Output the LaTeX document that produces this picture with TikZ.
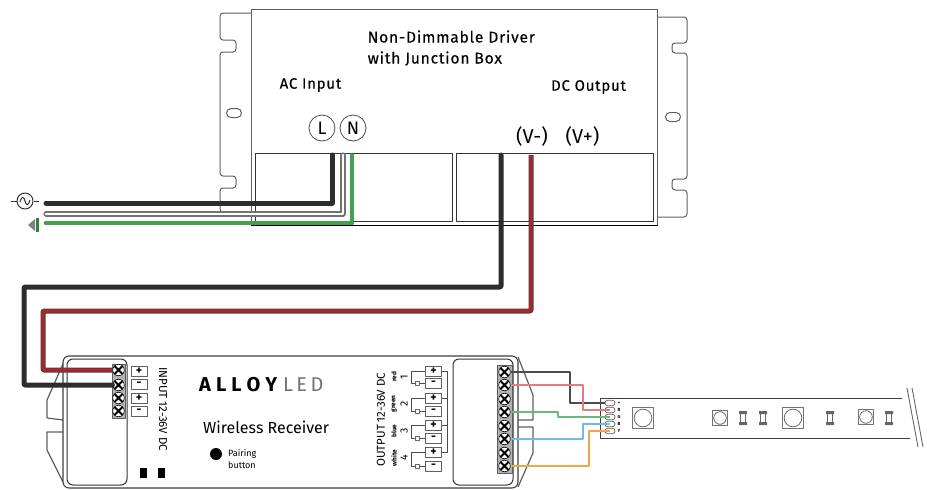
\documentclass[tikz,border=0pt]{standalone}
\usepackage{fontspec}
\setmainfont{Fira Sans}
\newfontfamily\dinfont[LetterSpace=5,FakeBold=0.25]{Fira Sans}
\usetikzlibrary{shapes.misc}
\definecolor{linegray}{RGB}{95,95,95}
\definecolor{wireblack}{RGB}{45,45,45}
\definecolor{wirered}{RGB}{176,36,44}
\definecolor{wiregreen}{RGB}{70,160,80}
\definecolor{thinred}{RGB}{224,125,130}
\definecolor{thingreen}{RGB}{105,185,125}
\definecolor{thinblue}{RGB}{105,190,235}
\definecolor{thinorange}{RGB}{245,165,70}
\begin{document}
\begin{tikzpicture}[x=1pt, y=-1pt, line join=round, font=\fontsize{14}{16}\selectfont,
outline/.style ={draw = linegray, line width = 1pt},
termbox/.style ={draw = black!80, line width = 0.9pt, minimum width = 197pt, minimum height = 68pt, inner sep = 0pt},
phase/.style ={circle, draw = black!70, line width = 0.8pt, minimum size = 26pt, inner sep = 0pt, font = \fontsize{18}{18}\selectfont},
heading/.style ={inner sep = 0pt, font = \dinfont\fontsize{15}{21}\selectfont},
screw/.style ={circle, draw = black, fill = white, line width = 0.6pt, minimum size = 11.5pt, inner sep = 0pt,
  path picture = {\draw[line width = 1.8pt] (path picture bounding box.north west) -- (path picture bounding box.south east)
  (path picture bounding box.north east) -- (path picture bounding box.south west);}},
block/.style ={draw = linegray, fill = black!30, line width = 0.5pt, inner sep = 0pt},
polbox/.style ={draw = linegray, line width = 0.8pt, minimum width = 16pt, minimum height = 10pt, inner sep = 0pt, font = \bfseries\fontsize{12}{12}\selectfont},
pad/.style ={rounded rectangle, draw = linegray, fill = white, line width = 0.7pt, minimum width = 10pt, minimum height = 5.5pt, inner sep = 0pt},
led/.style ={rectangle, draw = black!55, fill = white, line width = 1pt, inner sep = 0pt,
  path picture = {\draw[black!60, line width = 0.8pt] (path picture bounding box.center) circle (0.42*\pgfkeysvalueof{/pgf/minimum width});}},
res/.style ={rectangle, fill = white, minimum width = 8pt, minimum height = 14pt, inner sep = 0pt,
  path picture = {\fill[black!60] (path picture bounding box.north west) rectangle ([yshift = -3pt]path picture bounding box.north east)
  (path picture bounding box.south west) rectangle ([yshift = 3pt]path picture bounding box.south east);
  \draw[black!60, line width = 1pt] ([xshift = -2.2pt]path picture bounding box.north) -- ([xshift = -2.2pt]path picture bounding box.south)
  ([xshift = 2.2pt]path picture bounding box.north) -- ([xshift = 2.2pt]path picture bounding box.south);}},
blackwire/.style ={draw = wireblack, line width = 5pt, line cap = round},
redwire/.style ={draw = black!75, line width = 0.9pt, double = wirered, double distance = 3.2pt},
whitewire/.style ={draw = black!55, double = white, line width = 1.2pt, double distance = 2.8pt, line cap = round},
greenwire/.style ={draw = black!60, double = wiregreen, line width = 0.7pt, double distance = 3.2pt, line cap = round},
thinwire/.style ={line width = 1.4pt}]
\useasboundingbox (0,0) rectangle (927,490);

% driver
\draw[outline, rounded corners = 3pt] (251,13) -- (220,13) -- (220,40) -- (236,40) -- (236,52) -- (220,52) -- (220,176) -- (236,176)
  -- (236,188) -- (220,188) -- (220,212) -- (251,212);
\draw[outline, rounded corners = 3pt] (657,17) -- (687,17) -- (687,43) -- (672,43) -- (672,53) -- (687,53) -- (687,179) -- (672,179)
  -- (672,190) -- (687,190) -- (687,217) -- (657,217);
\node[draw = linegray, rounded rectangle, line width = 1pt, minimum width = 15pt, minimum height = 9pt, inner sep = 0pt] (slotA) at (234,113) {};
\node[draw = linegray, rounded rectangle, line width = 1pt, minimum width = 15pt, minimum height = 9pt, inner sep = 0pt] (slotB) at (673,117) {};
\node[outline, minimum width = 406pt, minimum height = 216pt, inner sep = 0pt] (driver) at (454,117) {};
\draw[black, line width = 1pt] (driver.south west) -- (driver.south east);
\node[termbox] (acbox) at (353.5,187) {};
\node[termbox] (dcbox) at (554.5,187) {};

\node[heading, anchor = west, align = left, font = \dinfont\fontsize{15.6}{21}\selectfont] (title) at (367.5,48) {Non-Dimmable Driver\\with Junction Box};
\node[heading] (acin) at (310.5,85) {AC Input};
\node[heading] (dcout) at (588.5,87) {DC Output};
\node[phase] (L) at (322,128) {L};
\node[phase] (N) at (353,128) {N};
\node[font = \fontsize{20}{20}\selectfont] (Vm) at (532,136) {(V-)};
\node[font = \fontsize{20}{20}\selectfont] (Vp) at (582.5,136) {(V+)};

% mains side
\node[circle, draw = black!80, line width = 1pt, minimum size = 16pt, inner sep = 0pt] (ac) at (25,201) {};
\draw[line width = 1pt, black!80] (11,201) -- (ac.west) (ac.east) -- (39,201);
\draw[line width = 1pt, black!80] (20,202) .. controls (22,195) and (24,197) .. (25,201) .. controls (26,205) and (28,207) .. (30,200);
\fill[black!50] (28,225) -- (35,219) -- (35,231) -- cycle;
\fill[wiregreen!80!black] (36,218) rectangle (39,232);

\coordinate (lineIn) at (46,203);
\coordinate (neutIn) at (46,214);
\coordinate (earthIn) at (46,223);
\coordinate (lineT) at (332,155);
\coordinate (neutT) at (343,155);
\coordinate (earthT) at (352,155);
\draw[whitewire] (neutIn) -| (neutT);
\draw[blackwire] (lineIn) -| (lineT);
\draw[greenwire] (earthIn) -| (earthT);

% receiver
\draw[outline, line width = 1.2pt] (63,364) -- (47,400) -- (47,418) -- (63,420) (63,432) -- (47,432) -- (47,450) -- (63,482);
\draw[outline, line width = 1.2pt] (518,357) -- (533,395) -- (533,420) -- (518,420) (518,427) -- (533,427) -- (533,453) -- (518,487);
\node[draw = black!75, fill = white, rounded corners = 6pt, line width = 1.1pt, minimum width = 455pt, minimum height = 132pt, inner sep = 0pt] (receiver) at (290.5,422) {};
\node[draw = black!80, rounded corners = 6pt, line width = 1pt, minimum width = 60pt, minimum height = 126pt, inner sep = 0pt] (pocketL) at (97,422) {};
\node[draw = black!80, rounded corners = 6pt, line width = 1pt, minimum width = 60pt, minimum height = 126pt, inner sep = 0pt] (pocketR) at (483,422) {};

\node[block, minimum width = 13pt, minimum height = 54pt] (blockL) at (118.5,391) {};
\node[block, minimum width = 15pt, minimum height = 108pt] (blockR) at (504.5,419) {};
\foreach \name/\ypos in {1/370, 2/385, 3/398, 4/411}
  \node[screw] (ls\name) at (118.5,\ypos) {};
\foreach \name/\ypos in {1/372, 2/385, 3/399, 4/412, 5/426, 6/439, 7/453, 8/466}
  \node[screw] (os\name) at (504.5,\ypos) {};

\node[polbox] (ip1) at (139,371) {+};
\node[polbox] (ip2) at (139,384) {-};
\node[polbox] (ip3) at (139,398) {+};
\node[polbox] (ip4) at (139,411) {-};
\node[rotate = -90, anchor = west, inner sep = 0pt, font = \fontsize{11.5}{13}\selectfont] (intext) at (163,367) {INPUT 12-36V DC};
\node[fill = black, minimum width = 7pt, minimum height = 10pt, inner sep = 0pt] (padA) at (143,473) {};
\node[fill = black, minimum width = 7pt, minimum height = 10pt, inner sep = 0pt] (padB) at (161,473) {};

\node[anchor = west, inner sep = 0pt, font = \bfseries\fontsize{20}{20}\selectfont] (alloy) at (199,385) {A\hspace{5pt}L\hspace{5pt}L\hspace{5pt}O\hspace{5pt}Y};
\node[anchor = west, inner sep = 0pt, text = black!55, font = \fontsize{20}{20}\selectfont] (ledtext) at (283,385) {L\,E\,D};
\node[anchor = west, inner sep = 0pt, font = \fontsize{16}{16}\selectfont] (wireless) at (203,427) {Wireless Receiver};
\node[circle, fill = black, minimum size = 12pt, inner sep = 0pt] (pair) at (216,454) {};
\node[anchor = west, inner sep = 0pt, align = left, font = \fontsize{9}{12}\selectfont] (pairtext) at (228,459) {Pairing\\button};

% output channels
\draw[line width = 0.8pt, black!70] (442,371) -- (447,371) -- (447,452) -- (442,452) (442,398) -- (447,398) (442,425) -- (447,425);
\foreach \num/\pos/\nega/\col in {1/371/383/red, 2/398/411/green, 3/425/438/blue, 4/452/466/white} {
  \node[polbox] (op\num) at (433.5,\pos) {+};
  \node[polbox] (on\num) at (433.5,\nega) {-};
  \draw[line width = 0.7pt, black!70] (op\num.west) -- (411,\pos) |- (on\num.west);
  \node[draw = black!60, fill = white, line width = 0.5pt, minimum width = 4pt, minimum height = 4pt, inner sep = 0pt] (d\num) at (417,\nega) {};
  \node[rotate = 90, inner sep = 0pt, font = \bfseries\fontsize{6.5}{7}\selectfont] (col\num) at (394,\pos+6) {\col};
  \node[rotate = 90, inner sep = 0pt, font = \fontsize{10.5}{10}\selectfont] (num\num) at (404,\pos+6) {\num};
}
\node[rotate = 90, anchor = west, inner sep = 0pt, font = \fontsize{11.5}{13}\selectfont] (outtext) at (381,467) {OUTPUT 12-36V DC};

% strip
\draw[black!75, line width = 1pt] (902,398) -- (600,398) -- (600,438) -- (910,438);
\draw[black!60, line width = 0.9pt] (907,388) -- (918,447) (912,388) -- (923,447);
\node[pad] (padV) at (610,403) {};
\node[pad] (padR) at (610,410) {};
\node[pad] (padG) at (610,417) {};
\node[pad] (padB) at (610,424) {};
\node[pad] (padY) at (610,431) {};
\foreach \ypos/\sym in {403/+, 410/R, 417/G, 424/B, 431/Y}
  \node[font = \bfseries\fontsize{4.5}{5}\selectfont, inner sep = 0pt] (sym\sym) at (619,\ypos) {\sym};
\node[led, minimum width = 21pt, minimum height = 21pt] (ledA) at (643,418) {};
\node[led, minimum width = 15pt, minimum height = 15pt] (ledB) at (720,418) {};
\node[led, minimum width = 21pt, minimum height = 21pt] (ledC) at (793,418) {};
\node[led, minimum width = 15pt, minimum height = 15pt] (ledD) at (866,417) {};
\node[res] (resA) at (743,418) {};
\node[res] (resB) at (763,418) {};
\node[res] (resC) at (830,418) {};
\node[res] (resD) at (889,418) {};

% wires
\coordinate (minusT) at (501,155);
\coordinate (plusT) at (531,155);
\draw[blackwire, rounded corners = 1pt] (minusT) -- (501,287) -- (24,287) -- (24,385) -- (ls2.west);
\draw[redwire, rounded corners = 1pt] (plusT) -- (531,311) -- (43,311) -- (43,370) -- (ls1.west);
\draw[thinwire, black!70] (os1.east) -- (570,372) -- (570,403) -- (padV.west);
\draw[thinwire, thinred] (os2.east) -- (583,385) -- (583,410) -- (padR.center);
\draw[thinwire, thingreen] (os4.east) -- (558,412) -- (558,417) -- (padG.center);
\draw[thinwire, thinblue] (os6.east) -- (583,439) -- (583,424) -- (padB.center);
\draw[thinwire, thinorange] (os8.east) -- (589,466) -- (589,431) -- (padY.center);
\end{tikzpicture}
\end{document}
